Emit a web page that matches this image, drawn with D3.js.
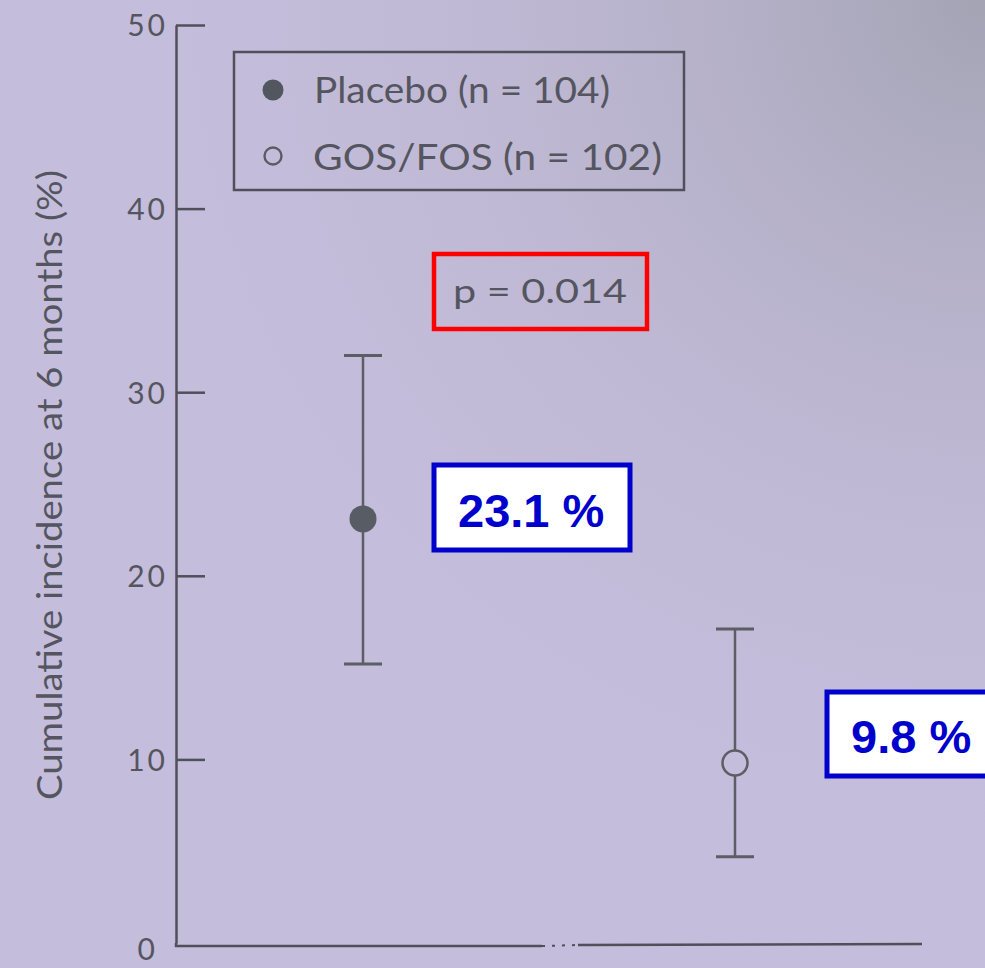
<!DOCTYPE html>
<html>
<head>
<meta charset="utf-8">
<script src="https://cdn.jsdelivr.net/npm/d3@7"></script>
<style>
  html, body { margin: 0; padding: 0; background: #c3bcd9; }
  svg { display: block; }
</style>
</head>
<body>
<svg id="chart" width="985" height="968"></svg>
<script>
// Cumulative incidence at 6 months, with confidence intervals
const categories = ["Placebo", "GOS/FOS"];
const incidence = [23.1, 9.8];
const ciLow = [15.2, 4.7];
const ciHigh = [32.0, 17.1];
const filled = [true, false];
const valueLabels = ["23.1 %", "9.8 %"];
const legendLabels = ["Placebo (n = 104)", "GOS/FOS (n = 102)"];
const yTicks = [0, 10, 20, 30, 40, 50];
const yTitle = "Cumulative incidence at 6 months (%)";
const pValueText = "p = 0.014";

const W = 985, H = 968;
const ink = "#50505b";
const textInk = "#55555f";
const bodyFont = "Lato, 'Open Sans', 'DejaVu Sans', sans-serif";

const svg = d3.select("#chart");

// Paper background, a little darker towards the upper right
const defs = svg.append("defs");
const shade = defs.append("radialGradient")
  .attr("id", "shade").attr("cx", 1).attr("cy", 0).attr("r", 0.9);
shade.append("stop").attr("offset", "0%").attr("stop-color", "#a2a2b2").attr("stop-opacity", 0.95);
shade.append("stop").attr("offset", "45%").attr("stop-color", "#b2aec4").attr("stop-opacity", 0.5);
shade.append("stop").attr("offset", "100%").attr("stop-color", "#c4bddb").attr("stop-opacity", 0);
svg.append("rect").attr("width", W).attr("height", H).attr("fill", "#c4bddb");
svg.append("rect").attr("width", W).attr("height", H).attr("fill", "url(#shade)");

const axisX = 176;
const y = d3.scaleLinear().domain([0, 50]).range([943, 25]);
const x = d3.scalePoint().domain(categories).range([363, 735]);

// Y axis with inward ticks
const yAxis = d3.axisLeft(y)
  .tickValues(yTicks)
  .tickSize(-29)
  .tickSizeOuter(0)
  .tickPadding(8)
  .tickFormat(d3.format("d"));

const gy = svg.append("g")
  .attr("transform", `translate(${axisX},0)`)
  .call(yAxis);
gy.select(".domain").attr("stroke", ink).attr("stroke-width", 2.5);
gy.selectAll(".tick line").attr("stroke", ink).attr("stroke-width", 2.5);
gy.selectAll(".tick text")
  .attr("fill", textInk)
  .style("font-family", bodyFont)
  .style("font-size", "30px")
  .style("letter-spacing", "3px")
  .attr("dy", "0.36em");
// the zero label sits just under the corner of the axes, the baseline replaces its tick
const zeroTick = gy.selectAll(".tick").filter(d => d === 0);
zeroTick.select("line").remove();
zeroTick.select("text").attr("dy", "0.55em").attr("x", -18);

// X baseline, broken in the middle
const y0 = y(0);
svg.append("line").attr("x1", axisX - 1).attr("x2", 542).attr("y1", y0 + 3).attr("y2", y0 + 3)
  .attr("stroke", ink).attr("stroke-width", 2.5);
svg.append("line").attr("x1", 542).attr("x2", 578).attr("y1", y0 + 3).attr("y2", y0 + 2)
  .attr("stroke", ink).attr("stroke-width", 2).attr("stroke-dasharray", "3,7");
svg.append("line").attr("x1", 578).attr("x2", 922).attr("y1", y0 + 2).attr("y2", y0 + 1)
  .attr("stroke", ink).attr("stroke-width", 2.5);
svg.append("line").attr("x1", axisX).attr("x2", axisX).attr("y1", y0).attr("y2", y0 + 4)
  .attr("stroke", ink).attr("stroke-width", 2.5);

// Y axis title
svg.append("text")
  .attr("transform", `translate(62,485) rotate(-90)`)
  .attr("text-anchor", "middle")
  .attr("fill", textInk)
  .style("font-family", bodyFont)
  .style("font-size", "35px")
  .attr("textLength", 630)
  .attr("lengthAdjust", "spacingAndGlyphs")
  .text(yTitle);

// Error bars with point estimates
const capHalf = 19;
const bars = svg.append("g").selectAll("g").data(categories).join("g");
bars.append("line")
  .attr("x1", d => x(d)).attr("x2", d => x(d))
  .attr("y1", (d, i) => y(ciHigh[i])).attr("y2", (d, i) => y(ciLow[i]))
  .attr("stroke", "#5d5d66").attr("stroke-width", 2.5);
bars.append("line")
  .attr("x1", d => x(d) - capHalf).attr("x2", d => x(d) + capHalf)
  .attr("y1", (d, i) => y(ciHigh[i])).attr("y2", (d, i) => y(ciHigh[i]))
  .attr("stroke", "#5d5d66").attr("stroke-width", 3);
bars.append("line")
  .attr("x1", d => x(d) - capHalf).attr("x2", d => x(d) + capHalf)
  .attr("y1", (d, i) => y(ciLow[i])).attr("y2", (d, i) => y(ciLow[i]))
  .attr("stroke", "#5d5d66").attr("stroke-width", 3);
bars.append("circle")
  .attr("cx", d => x(d))
  .attr("cy", (d, i) => y(incidence[i]))
  .attr("r", (d, i) => filled[i] ? 13.5 : 12.5)
  .attr("fill", (d, i) => filled[i] ? "#575c65" : "#c4bddb")
  .attr("stroke", (d, i) => filled[i] ? "none" : "#5d5d66")
  .attr("stroke-width", 2.5);

// Legend
const legend = svg.append("g");
legend.append("rect")
  .attr("x", 234).attr("y", 52).attr("width", 450).attr("height", 138)
  .attr("fill", "none").attr("stroke", ink).attr("stroke-width", 2.5);
const legendRows = [
  { cy: 90, tx: 314, ty: 103, tw: 296 },
  { cy: 156, tx: 313, ty: 170, tw: 349 }
];
legendRows.forEach((r, i) => {
  legend.append("circle")
    .attr("cx", 273).attr("cy", r.cy)
    .attr("r", filled[i] ? 10.5 : 8.5)
    .attr("fill", filled[i] ? "#52575f" : "none")
    .attr("stroke", filled[i] ? "none" : "#5b5b64")
    .attr("stroke-width", 2.4);
  legend.append("text")
    .attr("x", r.tx).attr("y", r.ty)
    .attr("fill", textInk)
    .style("font-family", bodyFont)
    .style("font-size", "37px")
    .attr("textLength", r.tw)
    .attr("lengthAdjust", "spacingAndGlyphs")
    .text(legendLabels[i]);
});

// Significance annotation
svg.append("rect")
  .attr("x", 434).attr("y", 254).attr("width", 213).attr("height", 75)
  .attr("fill", "none").attr("stroke", "#ff0000").attr("stroke-width", 4.5);
svg.append("text")
  .attr("x", 453).attr("y", 303)
  .attr("fill", textInk)
  .style("font-family", bodyFont)
  .style("font-size", "33px")
  .attr("textLength", 174)
  .attr("lengthAdjust", "spacingAndGlyphs")
  .text(pValueText);

// Value call-outs
const boxes = [
  { x: 434, y: 465, w: 196, h: 85, tx: 458, ty: 527 },
  { x: 827, y: 692, w: 200, h: 84, tx: 851, ty: 753 }
];
boxes.forEach((b, i) => {
  svg.append("rect")
    .attr("x", b.x).attr("y", b.y).attr("width", b.w).attr("height", b.h)
    .attr("fill", "#ffffff").attr("stroke", "#0000cc").attr("stroke-width", 5);
  svg.append("text")
    .attr("x", b.tx).attr("y", b.ty)
    .attr("fill", "#0000cc")
    .style("font-family", "'Liberation Sans', Arial, sans-serif")
    .style("font-weight", "bold")
    .style("font-size", "47px")
    .text(valueLabels[i]);
});
</script>
</body>
</html>
